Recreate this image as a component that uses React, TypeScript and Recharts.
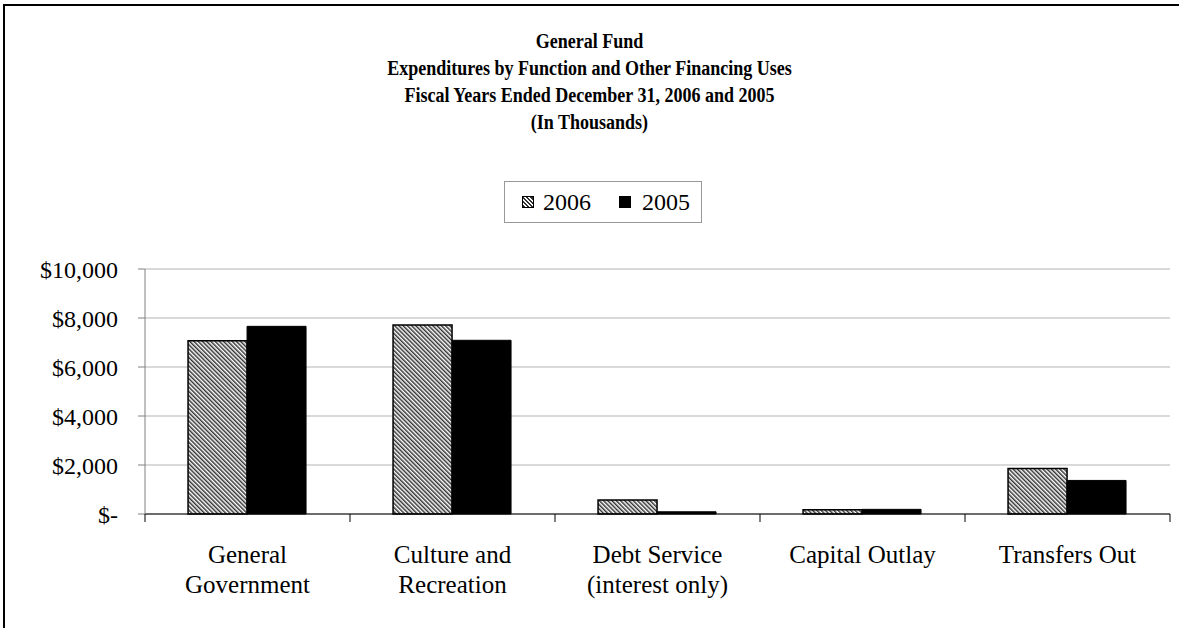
import { BarChart, Bar, XAxis, YAxis, CartesianGrid, Legend } from 'recharts';

const categories = ['General\nGovernment', 'Culture and\nRecreation', 'Debt Service\n(interest only)', 'Capital Outlay', 'Transfers Out'];
const values2006 = [7070, 7710, 570, 170, 1860];
const values2005 = [7660, 7090, 90, 190, 1370];
const yTicks = [0, 2000, 4000, 6000, 8000, 10000];
const titleLines = [
  'General Fund',
  'Expenditures by Function and Other Financing Uses',
  'Fiscal Years Ended December 31, 2006 and 2005',
  '(In Thousands)',
];

const data = categories.map((name, i) => ({ name, y2006: values2006[i], y2005: values2005[i] }));

const W = 1179;
const H = 628;
const MARGIN = { top: 269, right: 9, bottom: 0, left: 25 };
const Y_AXIS_W = 120;
const X_AXIS_H = 114;
const BAND = (W - MARGIN.left - Y_AXIS_W - MARGIN.right) / categories.length;
const FONT = '"Liberation Serif", "Times New Roman", serif';

const formatMoney = (v: number) => (v === 0 ? '$-' : '$' + v.toLocaleString('en-US'));

const CategoryTick = ({ x, y, payload, index }: any) => {
  const lines = String(payload.value).split('\n');
  return (
    <g>
      <line x1={x - BAND / 2} x2={x - BAND / 2} y1={y - 8} y2={y} stroke="#000" />
      {index === categories.length - 1 && (
        <line x1={x + BAND / 2} x2={x + BAND / 2} y1={y - 8} y2={y} stroke="#000" />
      )}
      <text x={x} y={y + 41} textAnchor="middle" fontFamily={FONT} fontSize={25} fill="#000">
        {lines.map((l, i) => (
          <tspan key={i} x={x} dy={i === 0 ? 0 : 30}>
            {l}
          </tspan>
        ))}
      </text>
    </g>
  );
};

const LegendBox = () => (
  <div
    style={{
      width: 196,
      height: 40,
      border: '1px solid #999',
      display: 'flex',
      alignItems: 'center',
      fontFamily: FONT,
      fontSize: 24,
      color: '#000',
      boxSizing: 'content-box',
    }}
  >
    <span
      style={{
        width: 10,
        height: 10,
        marginLeft: 17,
        border: '1px solid #000',
        background: 'repeating-linear-gradient(45deg, #333 0 1.5px, #fff 1.5px 3px)',
      }}
    />
    <span style={{ marginLeft: 9 }}>2006</span>
    <span style={{ width: 12, height: 12, marginLeft: 28, background: '#000' }} />
    <span style={{ marginLeft: 11 }}>2005</span>
  </div>
);

export default function App() {
  return (
    <div style={{ position: 'absolute', left: 0, top: 0, width: W, height: H, background: '#fff', overflow: 'hidden' }}>
      <div style={{ position: 'absolute', left: 3, top: 4, width: W - 3, height: 2, background: '#000' }} />
      <div style={{ position: 'absolute', left: 3, top: 4, width: 2, height: H - 4, background: '#000' }} />
      <div
        style={{
          position: 'absolute',
          left: 0,
          top: 28,
          width: W,
          textAlign: 'center',
          fontFamily: FONT,
          fontWeight: 'bold',
          fontSize: 20,
          lineHeight: '27px',
          color: '#000',
          transform: 'scaleX(0.9)',
          transformOrigin: '589.5px 0',
        }}
      >
        {titleLines.map((t) => (
          <div key={t}>{t}</div>
        ))}
      </div>
      <div style={{ position: 'absolute', left: 0, top: 0 }}>
        <BarChart width={W} height={H} data={data} margin={MARGIN} barCategoryGap="21%" barGap={0}>
          <defs>
            <pattern id="hatch" patternUnits="userSpaceOnUse" width="3" height="3" patternTransform="rotate(-45)">
              <rect width="3" height="3" fill="#fff" />
              <rect width="1.5" height="3" fill="#333" />
            </pattern>
          </defs>
          <CartesianGrid vertical={false} stroke="#b3b3b3" />
          <XAxis
            dataKey="name"
            height={X_AXIS_H}
            interval={0}
            tickLine={false}
            tickSize={8}
            tickMargin={0}
            axisLine={{ stroke: '#000' }}
            tick={<CategoryTick />}
          />
          <YAxis
            width={Y_AXIS_W}
            domain={[0, 10000]}
            ticks={yTicks}
            tickFormatter={formatMoney}
            tickSize={7}
            tickMargin={20}
            axisLine={{ stroke: '#808080' }}
            tickLine={{ stroke: '#808080' }}
            tick={{ fill: '#000', fontSize: 24, fontFamily: FONT }}
          />
          <Legend
            layout="horizontal"
            verticalAlign="middle"
            align="center"
            content={<LegendBox />}
            wrapperStyle={{ position: 'absolute', left: 504, top: 181, width: 'auto' }}
          />
          <Bar dataKey="y2006" name="2006" fill="url(#hatch)" stroke="#000" strokeWidth={1.5} isAnimationActive={false} />
          <Bar dataKey="y2005" name="2005" fill="#000" stroke="#000" strokeWidth={1} isAnimationActive={false} />
        </BarChart>
      </div>
    </div>
  );
}
